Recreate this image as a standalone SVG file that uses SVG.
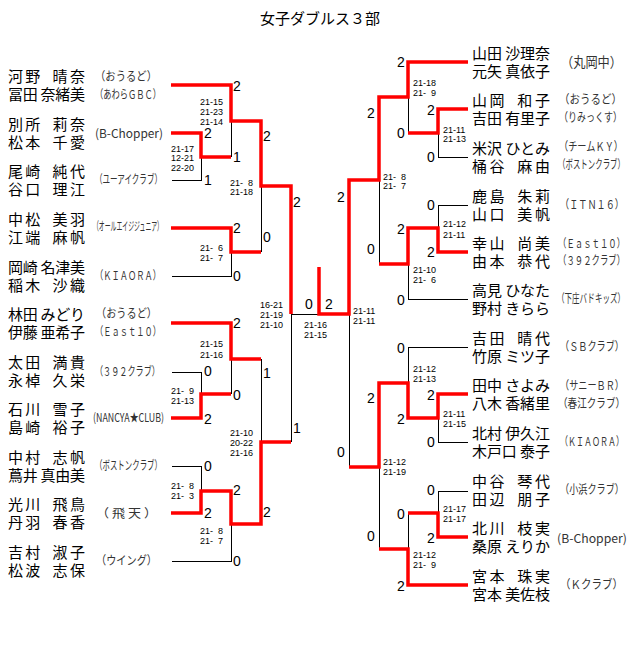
<svg xmlns="http://www.w3.org/2000/svg" width="640" height="645" viewBox="0 0 640 645">
<style>
.nm{font-family:"Noto Sans CJK JP","Noto Sans CJK SC",sans-serif;font-size:15px;fill:#000}
.cl{font-family:"Noto Sans CJK JP","Noto Sans CJK SC",sans-serif;font-size:12px;fill:#333}
.sc{font-family:"Liberation Sans",Arial,sans-serif;font-size:9px;fill:#000}
.rs{font-family:"Liberation Sans",Arial,sans-serif;font-size:14px;fill:#000}
.tt{font-family:"Noto Sans CJK JP","Noto Sans CJK SC",sans-serif;font-size:15px;fill:#000}
.r{stroke:#f00;stroke-width:3.5;fill:none;stroke-linejoin:miter}
.k{stroke:#000;stroke-width:1;fill:none;shape-rendering:crispEdges}
</style>
<rect width="640" height="645" fill="#fff"/>
<text class="tt" x="320" y="24" text-anchor="middle">女子ダブルス３部</text>

<g id="connectors">
<g class="k">
<path d="M172 180H201V157M231 121V157M172 276H231V252M261 186V252M172 372H201V394M231 359V394M261 359V442M291 314V442M172 466H201V491M172 561H231V524M291 314H319"/>
<path d="M468 157H438V133M408 97V133M468 205H438V228M468 299H408V264M379 180V264M349 314V467M468 347H408V383M468 442H438V418M379 467V549M468 491H438V513M408 513V549"/>
</g>
<g class="r">
<path d="M171 85H231V121H261V186H291V314"/>
<path d="M171 133H201V157H231"/>
<path d="M171 228H231V252H261"/>
<path d="M171 323H231V359H261"/>
<path d="M171 418H201V394H231"/>
<path d="M171 513H201V491H231V524H261V442H291"/>
<path d="M468 62H408V97H379V180H349V314H319V267"/>
<path d="M468 109H438V133H408"/>
<path d="M468 252H438V228H408V264H379"/>
<path d="M468 394H438V418H408V383H379V467H349"/>
<path d="M468 537H438V513H408"/>
<path d="M468 585H408V549H379"/>
</g>
</g>

<g id="results">
<text class="rs" x="233" y="91">2</text>
<text class="rs" x="233" y="162">1</text>
<text class="rs" x="204" y="138">2</text>
<text class="rs" x="204" y="185">1</text>
<text class="rs" x="263" y="141">2</text>
<text class="rs" x="293" y="207">2</text>
<text class="rs" x="263" y="242">0</text>
<text class="rs" x="233" y="233">2</text>
<text class="rs" x="233" y="281">0</text>
<text class="rs" x="233" y="328">2</text>
<text class="rs" x="233" y="400">0</text>
<text class="rs" x="204" y="376">0</text>
<text class="rs" x="204" y="424">2</text>
<text class="rs" x="263" y="378">1</text>
<text class="rs" x="293" y="433">1</text>
<text class="rs" x="204" y="471">0</text>
<text class="rs" x="204" y="518">2</text>
<text class="rs" x="233" y="495">2</text>
<text class="rs" x="233" y="566">0</text>
<text class="rs" x="263" y="517">2</text>
<text class="rs" x="305" y="309">0</text>
<text class="rs" x="325" y="309">2</text>
<text class="rs" x="337" y="202">2</text>
<text class="rs" x="337" y="457">0</text>
<text class="rs" x="397" y="67">2</text>
<text class="rs" x="397" y="138">0</text>
<text class="rs" x="427" y="115">2</text>
<text class="rs" x="427" y="162">0</text>
<text class="rs" x="367" y="118">2</text>
<text class="rs" x="427" y="210">0</text>
<text class="rs" x="427" y="257">2</text>
<text class="rs" x="397" y="234">2</text>
<text class="rs" x="397" y="305">0</text>
<text class="rs" x="367" y="254">0</text>
<text class="rs" x="397" y="353">0</text>
<text class="rs" x="397" y="424">2</text>
<text class="rs" x="427" y="400">2</text>
<text class="rs" x="427" y="447">0</text>
<text class="rs" x="367" y="403">2</text>
<text class="rs" x="427" y="495">0</text>
<text class="rs" x="427" y="543">2</text>
<text class="rs" x="397" y="519">0</text>
<text class="rs" x="397" y="591">2</text>
<text class="rs" x="367" y="541">0</text>
</g>

<g id="scores" class="sc">
<text><tspan x="200" y="105">21-15</tspan><tspan x="200" y="115">21-23</tspan><tspan x="200" y="124.5">21-14</tspan></text>
<text><tspan x="171" y="151.5">21-17</tspan><tspan x="171" y="161">12-21</tspan><tspan x="171" y="171">22-20</tspan></text>
<text><tspan x="230" y="186">21-&#x2007;8</tspan><tspan x="230" y="195">21-18</tspan></text>
<text><tspan x="200" y="251">21-&#x2007;6</tspan><tspan x="200" y="260.5">21-&#x2007;7</tspan></text>
<text><tspan x="260" y="308">16-21</tspan><tspan x="260" y="318">21-19</tspan><tspan x="260" y="327.5">21-10</tspan></text>
<text><tspan x="200" y="347">21-15</tspan><tspan x="200" y="357.5">21-16</tspan></text>
<text><tspan x="171" y="394">21-&#x2007;9</tspan><tspan x="171" y="403.5">21-13</tspan></text>
<text><tspan x="230" y="435.5">21-10</tspan><tspan x="230" y="445.5">20-22</tspan><tspan x="230" y="455.5">21-16</tspan></text>
<text><tspan x="171" y="489">21-&#x2007;8</tspan><tspan x="171" y="498.5">21-&#x2007;3</tspan></text>
<text><tspan x="200" y="534">21-&#x2007;8</tspan><tspan x="200" y="544">21-&#x2007;7</tspan></text>
<text><tspan x="304" y="327.5">21-16</tspan><tspan x="304" y="337.5">21-15</tspan></text>
<text><tspan x="413" y="86">21-18</tspan><tspan x="413" y="95.5">21-&#x2007;9</tspan></text>
<text><tspan x="443" y="132.5">21-11</tspan><tspan x="443" y="141.5">21-13</tspan></text>
<text><tspan x="383" y="179.5">21-&#x2007;8</tspan><tspan x="383" y="188.5">21-&#x2007;7</tspan></text>
<text><tspan x="443" y="226.5">21-12</tspan><tspan x="443" y="237.5">21-11</tspan></text>
<text><tspan x="413" y="272.5">21-10</tspan><tspan x="413" y="282.5">21-&#x2007;6</tspan></text>
<text><tspan x="353" y="313.5">21-11</tspan><tspan x="353" y="323.5">21-11</tspan></text>
<text><tspan x="413" y="371.5">21-12</tspan><tspan x="413" y="382">21-13</tspan></text>
<text><tspan x="443" y="416.5">21-11</tspan><tspan x="443" y="426.5">21-15</tspan></text>
<text><tspan x="383" y="465">21-12</tspan><tspan x="383" y="475">21-19</tspan></text>
<text><tspan x="443" y="511.5">21-17</tspan><tspan x="443" y="521.5">21-17</tspan></text>
<text><tspan x="413" y="557.5">21-12</tspan><tspan x="413" y="567.5">21-&#x2007;9</tspan></text>
</g>

<g id="team-L1"><text class="nm"><tspan x="8" y="81.8" textLength="77" lengthAdjust="spacing">河野&#x2002;晴奈</tspan><tspan x="8" y="100" textLength="77" lengthAdjust="spacing">冨田 奈緒美</tspan></text><text class="cl" transform="translate(95,81) scale(0.861,1)" textLength="72" lengthAdjust="spacingAndGlyphs">（おうるど）</text><text class="cl" transform="translate(95,98.5) scale(0.6875,1)" textLength="96" lengthAdjust="spacingAndGlyphs">（あわらＧＢＣ）</text></g>
<g id="team-L2"><text class="nm"><tspan x="8" y="129.8" textLength="77" lengthAdjust="spacing">別所&#x2002;莉奈</tspan><tspan x="8" y="148" textLength="77" lengthAdjust="spacing">松本&#x2002;千愛</tspan></text><text class="cl" x="95" y="137.5" textLength="68" lengthAdjust="spacingAndGlyphs">(B-Chopper)</text></g>
<g id="team-L3"><text class="nm"><tspan x="8" y="176.8" textLength="77" lengthAdjust="spacing">尾崎&#x2002;純代</tspan><tspan x="8" y="195" textLength="77" lengthAdjust="spacing">谷口&#x2002;理江</tspan></text><text class="cl" transform="translate(95,184.3) scale(0.62,1)" textLength="108" lengthAdjust="spacingAndGlyphs">（ユーアイクラブ）</text></g>
<g id="team-L4"><text class="nm"><tspan x="8" y="224.8" textLength="77" lengthAdjust="spacing">中松&#x2002;美羽</tspan><tspan x="8" y="243" textLength="77" lengthAdjust="spacing">江端&#x2002;麻帆</tspan></text><text class="cl" transform="translate(93,231.3) scale(0.486,1)" textLength="144" lengthAdjust="spacingAndGlyphs">（オールエイジジュニア）</text></g>
<g id="team-L5"><text class="nm"><tspan x="8" y="272.8" textLength="77" lengthAdjust="spacing">岡崎 名津美</tspan><tspan x="8" y="291" textLength="77" lengthAdjust="spacing">稲木&#x2002;沙織</tspan></text><text class="cl" transform="translate(95,280) scale(0.6875,1)" textLength="96" lengthAdjust="spacingAndGlyphs">（ＫＩＡＯＲＡ）</text></g>
<g id="team-L6"><text class="nm"><tspan x="8" y="319.8" textLength="77" lengthAdjust="spacing">林田 みどり</tspan><tspan x="8" y="338" textLength="77" lengthAdjust="spacing">伊藤 亜希子</tspan></text><text class="cl" transform="translate(96,318.3) scale(0.847,1)" textLength="72" lengthAdjust="spacingAndGlyphs">（おうるど）</text><text class="cl" transform="translate(95,336) scale(0.6875,1)" textLength="96" lengthAdjust="spacingAndGlyphs">（Ｅａｓｔ１０）</text></g>
<g id="team-L7"><text class="nm"><tspan x="8" y="367.8" textLength="77" lengthAdjust="spacing">太田&#x2002;満貴</tspan><tspan x="8" y="386" textLength="77" lengthAdjust="spacing">永棹&#x2002;久栄</tspan></text><text class="cl" transform="translate(95,376) scale(0.677,1)" textLength="96" lengthAdjust="spacingAndGlyphs">（３９２クラブ）</text></g>
<g id="team-L8"><text class="nm"><tspan x="8" y="414.8" textLength="77" lengthAdjust="spacing">石川&#x2002;雪子</tspan><tspan x="8" y="433" textLength="77" lengthAdjust="spacing">島崎&#x2002;裕子</tspan></text><text class="cl" transform="translate(93,422.3) scale(0.78,1)" textLength="91" lengthAdjust="spacingAndGlyphs">(NANCYA★CLUB)</text></g>
<g id="team-L9"><text class="nm"><tspan x="8" y="462.8" textLength="77" lengthAdjust="spacing">中村&#x2002;志帆</tspan><tspan x="8" y="481" textLength="77" lengthAdjust="spacing">蔦井 真由美</tspan></text><text class="cl" transform="translate(95,470.3) scale(0.62,1)" textLength="108" lengthAdjust="spacingAndGlyphs">（ボストンクラブ）</text></g>
<g id="team-L10"><text class="nm"><tspan x="8" y="509.8" textLength="77" lengthAdjust="spacing">光川&#x2002;飛鳥</tspan><tspan x="8" y="528" textLength="77" lengthAdjust="spacing">丹羽&#x2002;春香</tspan></text><text class="cl" x="96" y="518.3" textLength="61" lengthAdjust="spacingAndGlyphs">（ 飛 天 ）</text></g>
<g id="team-L11"><text class="nm"><tspan x="8" y="557.8" textLength="77" lengthAdjust="spacing">吉村&#x2002;淑子</tspan><tspan x="8" y="576" textLength="77" lengthAdjust="spacing">松波&#x2002;志保</tspan></text><text class="cl" transform="translate(96,565.3) scale(0.847,1)" textLength="72" lengthAdjust="spacingAndGlyphs">（ウイング）</text></g>

<g id="team-R1"><text class="nm"><tspan x="472" y="58.8" textLength="78" lengthAdjust="spacing">山田 沙理奈</tspan><tspan x="472" y="77" textLength="78" lengthAdjust="spacing">元矢 真依子</tspan></text><text class="cl" transform="translate(561,67) scale(0.871,1)" textLength="70" lengthAdjust="spacingAndGlyphs" style="font-size:14px">（丸岡中）</text></g>
<g id="team-R2"><text class="nm"><tspan x="472" y="105.8" textLength="78" lengthAdjust="spacing">山岡&#x2002;和子</tspan><tspan x="472" y="124" textLength="78" lengthAdjust="spacing">吉田 有里子</tspan></text><text class="cl" transform="translate(559,104.3) scale(0.875,1)" textLength="72" lengthAdjust="spacingAndGlyphs">（おうるど）</text><text class="cl" transform="translate(559,122.3) scale(0.75,1)" textLength="84" lengthAdjust="spacingAndGlyphs">（りみっくす）</text></g>
<g id="team-R3"><text class="nm"><tspan x="472" y="153.8" textLength="78" lengthAdjust="spacing">米沢 ひとみ</tspan><tspan x="472" y="172" textLength="78" lengthAdjust="spacing">桶谷&#x2002;麻由</tspan></text><text class="cl" transform="translate(559,151) scale(0.762,1)" textLength="84" lengthAdjust="spacingAndGlyphs">（チームＫＹ）</text><text class="cl" transform="translate(558,169.3) scale(0.62,1)" textLength="108" lengthAdjust="spacingAndGlyphs">（ボストンクラブ）</text></g>
<g id="team-R4"><text class="nm"><tspan x="472" y="201.8" textLength="78" lengthAdjust="spacing">鹿島&#x2002;朱莉</tspan><tspan x="472" y="220" textLength="78" lengthAdjust="spacing">山口&#x2002;美帆</tspan></text><text class="cl" transform="translate(560,209.3) scale(0.762,1)" textLength="84" lengthAdjust="spacingAndGlyphs">（ＩＴＮ１６）</text></g>
<g id="team-R5"><text class="nm"><tspan x="472" y="248.8" textLength="78" lengthAdjust="spacing">幸山&#x2002;尚美</tspan><tspan x="472" y="267" textLength="78" lengthAdjust="spacing">由本&#x2002;恭代</tspan></text><text class="cl" transform="translate(558,247.6) scale(0.698,1)" textLength="96" lengthAdjust="spacingAndGlyphs">（Ｅａｓｔ１０）</text><text class="cl" transform="translate(558,265.3) scale(0.698,1)" textLength="96" lengthAdjust="spacingAndGlyphs">（３９２クラブ）</text></g>
<g id="team-R6"><text class="nm"><tspan x="472" y="295.8" textLength="78" lengthAdjust="spacing">高見 ひなた</tspan><tspan x="472" y="314" textLength="78" lengthAdjust="spacing">野村 きらら</tspan></text><text class="cl" transform="translate(557,303.3) scale(0.63,1)" textLength="108" lengthAdjust="spacingAndGlyphs">（下庄バドキッズ）</text></g>
<g id="team-R7"><text class="nm"><tspan x="472" y="343.8" textLength="78" lengthAdjust="spacing">吉田&#x2002;晴代</tspan><tspan x="472" y="362" textLength="78" lengthAdjust="spacing">竹原 ミツ子</tspan></text><text class="cl" transform="translate(560,351.3) scale(0.762,1)" textLength="84" lengthAdjust="spacingAndGlyphs">（ＳＢクラブ）</text></g>
<g id="team-R8"><text class="nm"><tspan x="472" y="390.8" textLength="78" lengthAdjust="spacing">田中 さよみ</tspan><tspan x="472" y="409" textLength="78" lengthAdjust="spacing">八木 香緒里</tspan></text><text class="cl" transform="translate(560,390) scale(0.762,1)" textLength="84" lengthAdjust="spacingAndGlyphs">（サニーＢＲ）</text><text class="cl" transform="translate(558,407.6) scale(0.798,1)" textLength="84" lengthAdjust="spacingAndGlyphs">（春江クラブ）</text></g>
<g id="team-R9"><text class="nm"><tspan x="472" y="438.8" textLength="78" lengthAdjust="spacing">北村 伊久江</tspan><tspan x="472" y="457" textLength="78" lengthAdjust="spacing">木戸口 泰子</tspan></text><text class="cl" transform="translate(560,446.3) scale(0.667,1)" textLength="96" lengthAdjust="spacingAndGlyphs">（ＫＩＡＯＲＡ）</text></g>
<g id="team-R10"><text class="nm"><tspan x="472" y="486.8" textLength="78" lengthAdjust="spacing">中谷&#x2002;琴代</tspan><tspan x="472" y="505" textLength="78" lengthAdjust="spacing">田辺&#x2002;朋子</tspan></text><text class="cl" transform="translate(560,494.3) scale(0.762,1)" textLength="84" lengthAdjust="spacingAndGlyphs">（小浜クラブ）</text></g>
<g id="team-R11"><text class="nm"><tspan x="472" y="533.8" textLength="78" lengthAdjust="spacing">北川&#x2002;枝実</tspan><tspan x="472" y="552" textLength="78" lengthAdjust="spacing">桑原 えりか</tspan></text><text class="cl" x="557" y="543" textLength="70" lengthAdjust="spacingAndGlyphs">(B-Chopper)</text></g>
<g id="team-R12"><text class="nm"><tspan x="472" y="581.8" textLength="78" lengthAdjust="spacing">宮本&#x2002;珠実</tspan><tspan x="472" y="600" textLength="78" lengthAdjust="spacing">宮本 美佐枝</tspan></text><text class="cl" transform="translate(560,589.3) scale(0.875,1)" textLength="72" lengthAdjust="spacingAndGlyphs">（Ｋクラブ）</text></g>
</svg>
